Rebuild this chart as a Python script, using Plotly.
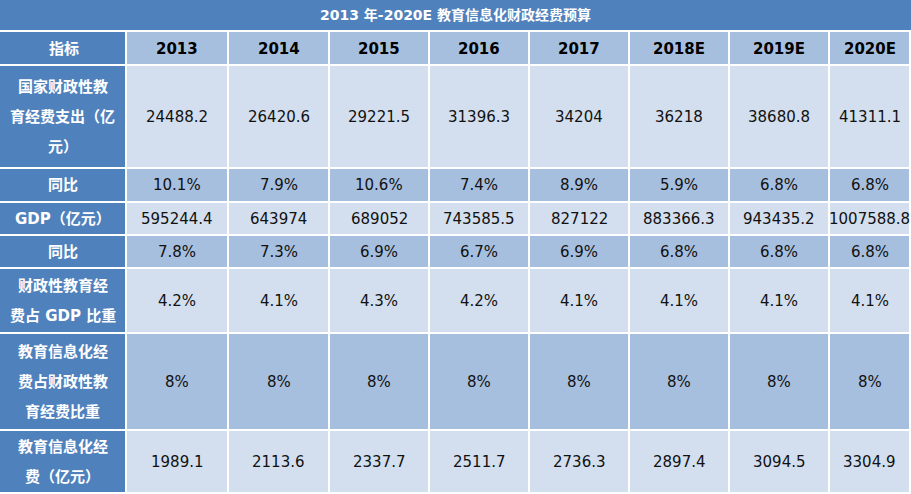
import plotly.graph_objects as go

title = "2013 年-2020E 教育信息化财政经费预算"
years = ["2013", "2014", "2015", "2016", "2017", "2018E", "2019E", "2020E"]
row_labels = [
    "国家财政性教\n育经费支出（亿\n元）",
    "同比",
    "GDP（亿元）",
    "同比",
    "财政性教育经\n费占 GDP 比重",
    "教育信息化经\n费占财政性教\n育经费比重",
    "教育信息化经\n费（亿元）",
]
edu_spend = ["24488.2", "26420.6", "29221.5", "31396.3", "34204", "36218", "38680.8", "41311.1"]
edu_yoy = ["10.1%", "7.9%", "10.6%", "7.4%", "8.9%", "5.9%", "6.8%", "6.8%"]
gdp = ["595244.4", "643974", "689052", "743585.5", "827122", "883366.3", "943435.2", "1007588.8"]
gdp_yoy = ["7.8%", "7.3%", "6.9%", "6.7%", "6.9%", "6.8%", "6.8%", "6.8%"]
edu_share_gdp = ["4.2%", "4.1%", "4.3%", "4.2%", "4.1%", "4.1%", "4.1%", "4.1%"]
it_share = ["8%"] * 8
it_spend = ["1989.1", "2113.6", "2337.7", "2511.7", "2736.3", "2897.4", "3094.5", "3304.9"]
rows = [edu_spend, edu_yoy, gdp, gdp_yoy, edu_share_gdp, it_share, it_spend]

# layout geometry (pixels)
col_edges = [0, 127, 229, 330, 430, 530, 630, 730, 830, 911]
row_edges = [32, 66, 169, 203, 236, 269, 334, 431, 494]
gap = 2
DARK = "#4f81bd"
MID = "#a7bfde"
LIGHT = "#d3dfee"
FONT = "DejaVu Sans, Noto Sans CJK SC"

fig = go.Figure()
shapes = []
annos = []

def cell(x0, x1, y0, y1, color):
    shapes.append(dict(type="rect", xref="x", yref="y", x0=x0, x1=x1 - gap, y0=y0, y1=y1 - gap,
                       fillcolor=color, line=dict(width=0), layer="below"))

def text(x, y, s, color, bold=False, size=15):
    if bold:
        s = "<b>" + s + "</b>"
    annos.append(dict(x=x, y=y, xref="x", yref="y", text=s, showarrow=False,
                      font=dict(family=FONT, size=size, color=color)))

# title bar
shapes.append(dict(type="rect", xref="x", yref="y", x0=0, x1=911, y0=0, y1=30,
                   fillcolor=DARK, line=dict(width=0), layer="below"))
text(455, 15, title, "white", True, 14)

# header
cell(col_edges[0], col_edges[1], row_edges[0], row_edges[1], DARK)
text((col_edges[0] + col_edges[1]) / 2, 49, "指标", "white", True)
for j, yr in enumerate(years):
    x0, x1 = col_edges[j + 1], col_edges[j + 2]
    cell(x0, x1, row_edges[0], row_edges[1], MID)
    text((x0 + x1 - gap) / 2, 49, yr, "black", True)

for i, (lab, vals) in enumerate(zip(row_labels, rows)):
    y0, y1 = row_edges[i + 1], row_edges[i + 2]
    yc = (y0 + y1 - gap) / 2
    bg = LIGHT if i % 2 == 0 else MID
    cell(col_edges[0], col_edges[1], y0, y1, DARK)
    lines = lab.split("\n")
    for k, ln in enumerate(lines):
        text((col_edges[0] + col_edges[1] - gap) / 2, yc + (k - (len(lines) - 1) / 2) * 30, ln, "white", True)
    for j, v in enumerate(vals):
        x0, x1 = col_edges[j + 1], col_edges[j + 2]
        cell(x0, x1, y0, y1, bg)
        text((x0 + x1 - gap) / 2, yc, v, "#111111")

fig.add_trace(go.Scatter(x=[0, 911], y=[0, 494], mode="markers", marker=dict(opacity=0), hoverinfo="skip"))
fig.update_layout(
    width=911, height=494, margin=dict(l=0, r=0, t=0, b=0),
    paper_bgcolor="white", plot_bgcolor="white", showlegend=False,
    shapes=shapes, annotations=annos,
    xaxis=dict(range=[0, 911], visible=False, fixedrange=True),
    yaxis=dict(range=[494, 0], visible=False, fixedrange=True),
)
fig.write_html("out.html", config={"displayModeBar": False},
               post_script="document.body.style.margin='0';document.body.style.overflow='hidden';")
